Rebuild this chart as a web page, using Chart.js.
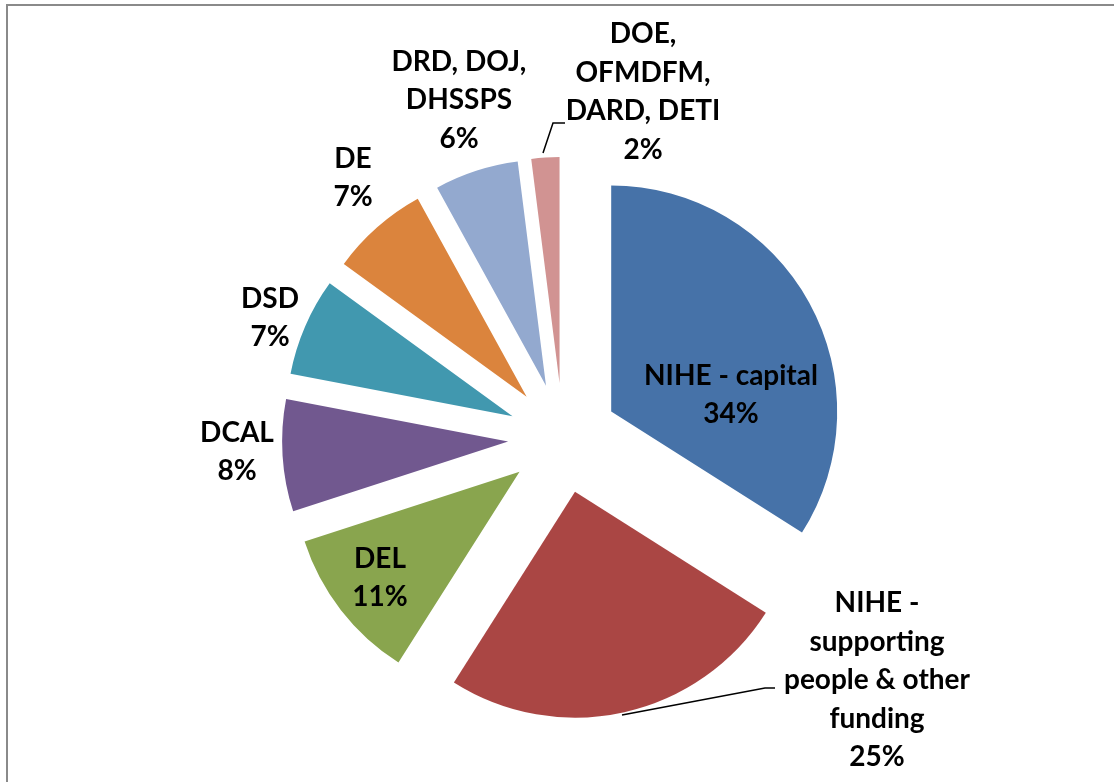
<!DOCTYPE html>
<html>
<head>
<meta charset="utf-8">
<script src="https://cdn.jsdelivr.net/npm/chart.js@4/dist/chart.umd.min.js"></script>
<style>
    body { margin: 0; background: #fff; }
    #wrap { position: relative; width: 1114px; height: 782px; }
</style>
</head>
<body>
<div id="wrap"><canvas id="fundingChart"></canvas></div>
<script>
// Funding share by department (percent)
const categories = [
    'NIHE - capital',
    'NIHE - supporting people & other funding',
    'DEL',
    'DCAL',
    'DSD',
    'DE',
    'DRD, DOJ, DHSSPS',
    'DOE, OFMDFM, DARD, DETI'
];
const shares = [34, 25, 11, 8, 7, 7, 6, 2];
const sliceColors = ['#4672A8', '#AA4644', '#89A54E', '#71588F', '#4198AF', '#DB843D', '#93A9CF', '#D19392'];

// how the label text wraps in the picture
const labelLines = [
    ['NIHE - capital'],
    ['NIHE -', 'supporting', 'people & other', 'funding'],
    ['DEL'],
    ['DCAL'],
    ['DSD'],
    ['DE'],
    ['DRD, DOJ,', 'DHSSPS'],
    ['DOE,', 'OFMDFM,', 'DARD, DETI']
];

const EXPLODE = 55;

// label block centres, relative to the pie centre
const labelOffsets = [
    [168, -43], [314, 242], [-183, 140], [-326, 14],
    [-293, -120], [-210, -260], [-104, -338], [80, -346]
];
// leader lines, relative to the pie centre
const leaders = {
    1: [[59, 277], [202, 250], [212, 250]],
    7: [[-20, -285], [-10, -315], [2, -315]]
};

const frame = {
    id: 'frame',
    beforeDraw(chart) {
        const ctx = chart.ctx;
        ctx.save();
        ctx.strokeStyle = '#8a8a8a';
        ctx.lineWidth = 2;
        ctx.strokeRect(7, 5, 1200, 900);
        ctx.restore();
    }
};

// explode every slice outward along its bisector
const explode = {
    id: 'explode',
    beforeDatasetDraw(chart, args) {
        const ctx = chart.ctx;
        args.meta.data.forEach(arc => {
            const mid = (arc.startAngle + arc.endAngle) / 2;
            ctx.save();
            ctx.translate(Math.cos(mid) * EXPLODE, Math.sin(mid) * EXPLODE);
            arc.draw(ctx);
            ctx.restore();
        });
        return false;
    }
};

const sliceLabels = {
    id: 'sliceLabels',
    afterDatasetsDraw(chart) {
        const ctx = chart.ctx;
        const arcs = chart.getDatasetMeta(0).data;
        const cx = arcs[0].x, cy = arcs[0].y;
        const lh = 38.5;
        ctx.save();
        ctx.fillStyle = '#000';
        ctx.font = 'bold 28px Lato';
        ctx.textAlign = 'center';
        ctx.textBaseline = 'alphabetic';
        shares.forEach((v, i) => {
            const lines = labelLines[i].concat([v + '%']);
            const x = cx + labelOffsets[i][0];
            const y = cy + labelOffsets[i][1];
            const n = lines.length;
            lines.forEach((t, j) => {
                ctx.fillText(t, x, y + 9 + (j - (n - 1) / 2) * lh);
            });
        });
        ctx.strokeStyle = '#000';
        ctx.lineWidth = 1.5;
        Object.values(leaders).forEach(pts => {
            ctx.beginPath();
            pts.forEach((p, k) => {
                if (k === 0) ctx.moveTo(cx + p[0], cy + p[1]);
                else ctx.lineTo(cx + p[0], cy + p[1]);
            });
            ctx.stroke();
        });
        ctx.restore();
    }
};

new Chart(document.getElementById('fundingChart'), {
    type: 'pie',
    data: {
        labels: categories,
        datasets: [{
            data: shares,
            backgroundColor: sliceColors,
            borderWidth: 0
        }]
    },
    options: {
        responsive: true,
        maintainAspectRatio: false,
        animation: false,
        radius: 226,
        layout: {
            padding: { left: 12, right: 0, top: 94, bottom: 0 }
        },
        plugins: {
            legend: { display: false },
            tooltip: { enabled: false }
        }
    },
    plugins: [frame, explode, sliceLabels]
});
</script>
</body>
</html>
